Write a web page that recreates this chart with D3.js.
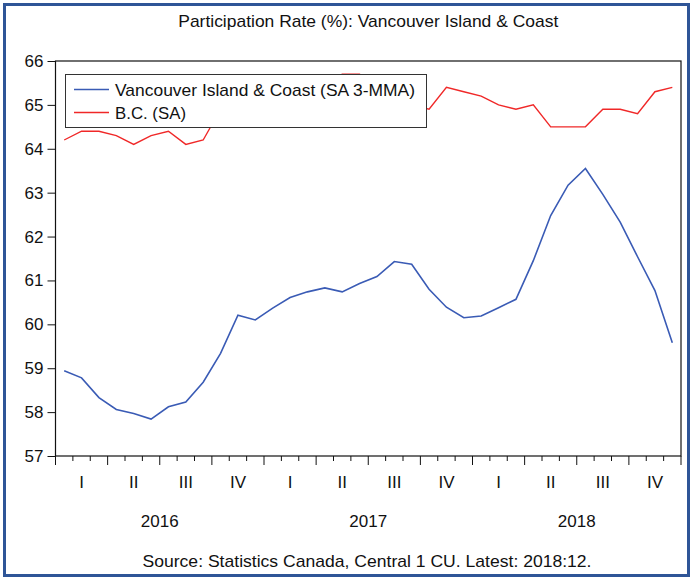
<!DOCTYPE html>
<html><head><meta charset="utf-8">
<script src="https://cdn.jsdelivr.net/npm/d3@7"></script>
<style>body{margin:0;background:#fff}svg{display:block}text{font-family:"Liberation Sans",Arial,sans-serif;fill:#111}</style>
</head><body><svg id="c" width="693" height="580"></svg>
<script>
const months = ["2016:01","2016:02","2016:03","2016:04","2016:05","2016:06","2016:07","2016:08","2016:09","2016:10","2016:11","2016:12",
"2017:01","2017:02","2017:03","2017:04","2017:05","2017:06","2017:07","2017:08","2017:09","2017:10","2017:11","2017:12",
"2018:01","2018:02","2018:03","2018:04","2018:05","2018:06","2018:07","2018:08","2018:09","2018:10","2018:11","2018:12"];
const vicCoast = [58.94,58.78,58.33,58.06,57.97,57.84,58.12,58.23,58.68,59.34,60.21,60.10,
60.37,60.61,60.74,60.83,60.74,60.93,61.09,61.43,61.37,60.80,60.39,60.15,
60.19,60.38,60.57,61.45,62.48,63.17,63.55,62.96,62.33,61.54,60.77,59.58];
const bc = [64.2,64.4,64.4,64.3,64.1,64.3,64.4,64.1,64.2,64.9,65.0,64.9,
65.1,65.2,65.3,65.5,65.7,65.7,65.4,65.2,65.0,64.9,65.4,65.3,
65.2,65.0,64.9,65.0,64.5,64.5,64.5,64.9,64.9,64.8,65.3,65.4];
const yTicks = [57,58,59,60,61,62,63,64,65,66];
const quarters = ["I","II","III","IV"];
const years = ["2016","2017","2018"];
const seriesNames = ["Vancouver Island & Coast (SA 3-MMA)","B.C. (SA)"];
const title = "Participation Rate (%): Vancouver Island & Coast";
const source = "Source: Statistics Canada, Central 1 CU. Latest: 2018:12.";

const svg = d3.select("#c");
const L=55.5, R=681, T=61, B=456;
const x = d3.scaleLinear().domain([-0.5, months.length-0.5]).range([L,R]);
const y = d3.scaleLinear().domain([57,66]).range([B,T]);

svg.append("rect").attr("x",0).attr("y",0).attr("width",693).attr("height",580).attr("fill","#fff");
svg.append("rect").attr("x",4.5).attr("y",4.5).attr("width",684).attr("height",571)
  .attr("fill","none").attr("stroke","#2f5597").attr("stroke-width",3);

svg.append("text").attr("x",(L+R)/2).attr("y",27).attr("text-anchor","middle")
  .attr("font-size",17).attr("textLength",380).attr("lengthAdjust","spacingAndGlyphs").text(title);

// y axis
const yAxis = d3.axisLeft(y).tickValues(yTicks).tickSize(8).tickPadding(4).tickFormat(d3.format("d"));
const gy = svg.append("g").attr("transform",`translate(${L},0)`).call(yAxis);
gy.select(".domain").remove();
gy.selectAll("line").attr("stroke","#111");
gy.selectAll("text").attr("font-size",17).attr("font-family","Liberation Sans, Arial, sans-serif").attr("fill","#111");

// x axis month ticks
const boundaries = d3.range(0, months.length+1).map(i=>i-0.5);
const gx = svg.append("g");
gx.selectAll("line.t").data(boundaries).join("line")
  .attr("x1",d=>x(d)).attr("x2",d=>x(d)).attr("y1",B)
  .attr("y2",(d,i)=> i%3===0 ? B+9 : B+5).attr("stroke","#111").attr("stroke-width",1);
// quarter labels
const qIdx = d3.range(0, months.length/3);
gx.selectAll("text.q").data(qIdx).join("text")
  .attr("x",q=>x(q*3+1)).attr("y",488).attr("text-anchor","middle").attr("font-size",17)
  .text(q=>quarters[q%4]);
gx.selectAll("text.yr").data(years).join("text")
  .attr("x",(d,i)=>x(i*12+5.5)).attr("y",527).attr("text-anchor","middle").attr("font-size",17)
  .text(d=>d);

// lines
const line = d3.line().x((d,i)=>x(i)).y(d=>y(d));
svg.append("path").datum(bc).attr("d",line).attr("fill","none").attr("stroke","#f02828").attr("stroke-width",1.4);
svg.append("path").datum(vicCoast).attr("d",line).attr("fill","none").attr("stroke","#3a5bb5").attr("stroke-width",1.6);

// frame
svg.append("rect").attr("x",L).attr("y",T).attr("width",R-L).attr("height",B-T)
  .attr("fill","none").attr("stroke","#111").attr("stroke-width",1.2);

// legend
const lg = svg.append("g");
lg.append("rect").attr("x",65.5).attr("y",74.5).attr("width",361).attr("height",53)
  .attr("fill","#fff").attr("stroke","#333").attr("stroke-width",1);
const colors = ["#3a5bb5","#f02828"];
const lw = [300, 71];
seriesNames.forEach((n,i)=>{
  const yy = 89.5 + i*23;
  lg.append("line").attr("x1",74).attr("x2",109).attr("y1",yy).attr("y2",yy).attr("stroke",colors[i]).attr("stroke-width",1.5);
  lg.append("text").attr("x",115).attr("y",yy+6).attr("font-size",17)
    .attr("textLength",lw[i]).attr("lengthAdjust","spacingAndGlyphs").text(n);
});

svg.append("text").attr("x",367).attr("y",567).attr("text-anchor","middle").attr("font-size",17)
  .attr("textLength",449).attr("lengthAdjust","spacingAndGlyphs").text(source);
</script></body></html>
